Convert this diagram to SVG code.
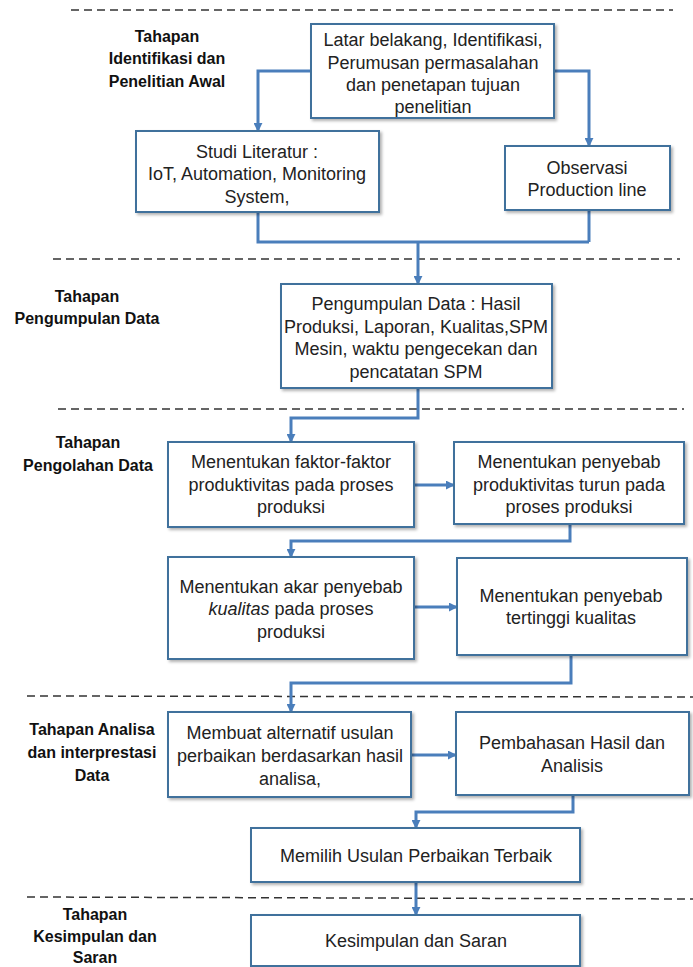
<svg xmlns="http://www.w3.org/2000/svg" width="693" height="967" viewBox="0 0 693 967">
<defs>
<filter id="sh" x="-10%" y="-10%" width="125%" height="130%">
<feDropShadow dx="2" dy="2" stdDeviation="1.5" flood-color="#000" flood-opacity="0.3"/>
</filter>
<marker id="ah" viewBox="0 0 10 10" refX="9" refY="5" markerUnits="userSpaceOnUse" markerWidth="9" markerHeight="9" orient="auto">
<path d="M0,0 L10,5 L0,10 z" fill="#4A7EBB"/>
</marker>
<style>
.box{fill:#fff;stroke:#41719C;stroke-width:2;filter:url(#sh)}
.t{font-family:"Liberation Sans",Arial,sans-serif;font-size:18px;fill:#222;text-anchor:middle}
.lb{font-family:"Liberation Sans",Arial,sans-serif;font-size:16px;font-weight:bold;fill:#111;text-anchor:middle}
.dash{stroke:#333;stroke-width:1.5;stroke-dasharray:8 5;fill:none}
.c{stroke:#4A7EBB;stroke-width:3;fill:none}
.ca{stroke:#4A7EBB;stroke-width:3;fill:none;marker-end:url(#ah)}
</style>
</defs>
<rect width="693" height="967" fill="#fff"/>

<g id="separators">
<line class="dash" x1="71" y1="10" x2="673" y2="10"/>
<line class="dash" x1="53" y1="259" x2="680" y2="259"/>
<line class="dash" x1="58" y1="409" x2="684" y2="409"/>
<line class="dash" x1="27" y1="696" x2="693" y2="697"/>
<line class="dash" x1="27" y1="897" x2="693" y2="899"/>
</g>

<g id="stage-labels">
<text class="lb" x="167" y="42">Tahapan</text>
<text class="lb" x="167" y="64">Identifikasi dan</text>
<text class="lb" x="167" y="87">Penelitian Awal</text>
<text class="lb" x="87" y="302">Tahapan</text>
<text class="lb" x="87" y="324">Pengumpulan Data</text>
<text class="lb" x="88" y="448">Tahapan</text>
<text class="lb" x="88" y="471">Pengolahan Data</text>
<text class="lb" x="92" y="735">Tahapan Analisa</text>
<text class="lb" x="92" y="758">dan interprestasi</text>
<text class="lb" x="92" y="781">Data</text>
<text class="lb" x="95" y="920">Tahapan</text>
<text class="lb" x="95" y="942">Kesimpulan dan</text>
<text class="lb" x="95" y="963">Saran</text>
</g>

<g id="connectors">
<path class="ca" d="M311,71 H258 V131"/>
<path class="ca" d="M554,71 H589 V146"/>
<path class="c" d="M258,212 V242 H589"/>
<path class="c" d="M589,210 V242"/>
<path class="ca" d="M418,242 V284"/>
<path class="ca" d="M418,388 V418 H291 V442"/>
<path class="ca" d="M414,485 H454"/>
<path class="ca" d="M570,524 V541 H291 V557"/>
<path class="ca" d="M414,607 H457"/>
<path class="ca" d="M571,655 V683 H291 V712"/>
<path class="ca" d="M411,755 H456"/>
<path class="ca" d="M573,795 V812 H416 V828"/>
<path class="ca" d="M416,882 V915"/>
</g>

<g id="n1">
<rect class="box" x="311" y="24" width="243" height="94"/>
<text class="t" x="433" y="46">Latar belakang, Identifikasi,</text>
<text class="t" x="433" y="69">Perumusan permasalahan</text>
<text class="t" x="433" y="91">dan penetapan tujuan</text>
<text class="t" x="433" y="113">penelitian</text>
</g>
<g id="n2">
<rect class="box" x="136" y="131" width="243" height="81"/>
<text class="t" x="257" y="158">Studi Literatur :</text>
<text class="t" x="257" y="180">IoT, Automation, Monitoring</text>
<text class="t" x="257" y="203">System,</text>
</g>
<g id="n3">
<rect class="box" x="505" y="146" width="165" height="64"/>
<text class="t" x="587" y="174">Observasi</text>
<text class="t" x="587" y="196">Production line</text>
</g>
<g id="n4">
<rect class="box" x="281" y="284" width="271" height="104"/>
<text class="t" x="416" y="310">Pengumpulan Data : Hasil</text>
<text class="t" x="416" y="333" font-size="17">Produksi, Laporan, Kualitas,SPM</text>
<text class="t" x="416" y="355">Mesin, waktu pengecekan dan</text>
<text class="t" x="416" y="378">pencatatan SPM</text>
</g>
<g id="n5">
<rect class="box" x="168" y="442" width="246" height="85"/>
<text class="t" x="291" y="468">Menentukan faktor-faktor</text>
<text class="t" x="291" y="491">produktivitas pada proses</text>
<text class="t" x="291" y="513">produksi</text>
</g>
<g id="n6">
<rect class="box" x="454" y="442" width="230" height="82"/>
<text class="t" x="569" y="468">Menentukan penyebab</text>
<text class="t" x="569" y="491">produktivitas turun pada</text>
<text class="t" x="569" y="513">proses produksi</text>
</g>
<g id="n7">
<rect class="box" x="168" y="557" width="246" height="102"/>
<text class="t" x="291" y="593">Menentukan akar penyebab</text>
<text class="t" x="291" y="615"><tspan font-style="italic">kualitas</tspan> pada proses</text>
<text class="t" x="291" y="638">produksi</text>
</g>
<g id="n8">
<rect class="box" x="457" y="558" width="230" height="97"/>
<text class="t" x="571" y="602">Menentukan penyebab</text>
<text class="t" x="571" y="624">tertinggi kualitas</text>
</g>
<g id="n9">
<rect class="box" x="168" y="712" width="243" height="85"/>
<text class="t" x="290" y="739">Membuat alternatif usulan</text>
<text class="t" x="290" y="762">perbaikan berdasarkan hasil</text>
<text class="t" x="290" y="785">analisa,</text>
</g>
<g id="n10">
<rect class="box" x="456" y="712" width="233" height="83"/>
<text class="t" x="572" y="749">Pembahasan Hasil dan</text>
<text class="t" x="572" y="772">Analisis</text>
</g>
<g id="n11">
<rect class="box" x="251" y="828" width="329" height="54"/>
<text class="t" x="416" y="862">Memilih Usulan Perbaikan Terbaik</text>
</g>
<g id="n12">
<rect class="box" x="251" y="915" width="329" height="51"/>
<text class="t" x="416" y="947">Kesimpulan dan Saran</text>
</g>
</svg>
